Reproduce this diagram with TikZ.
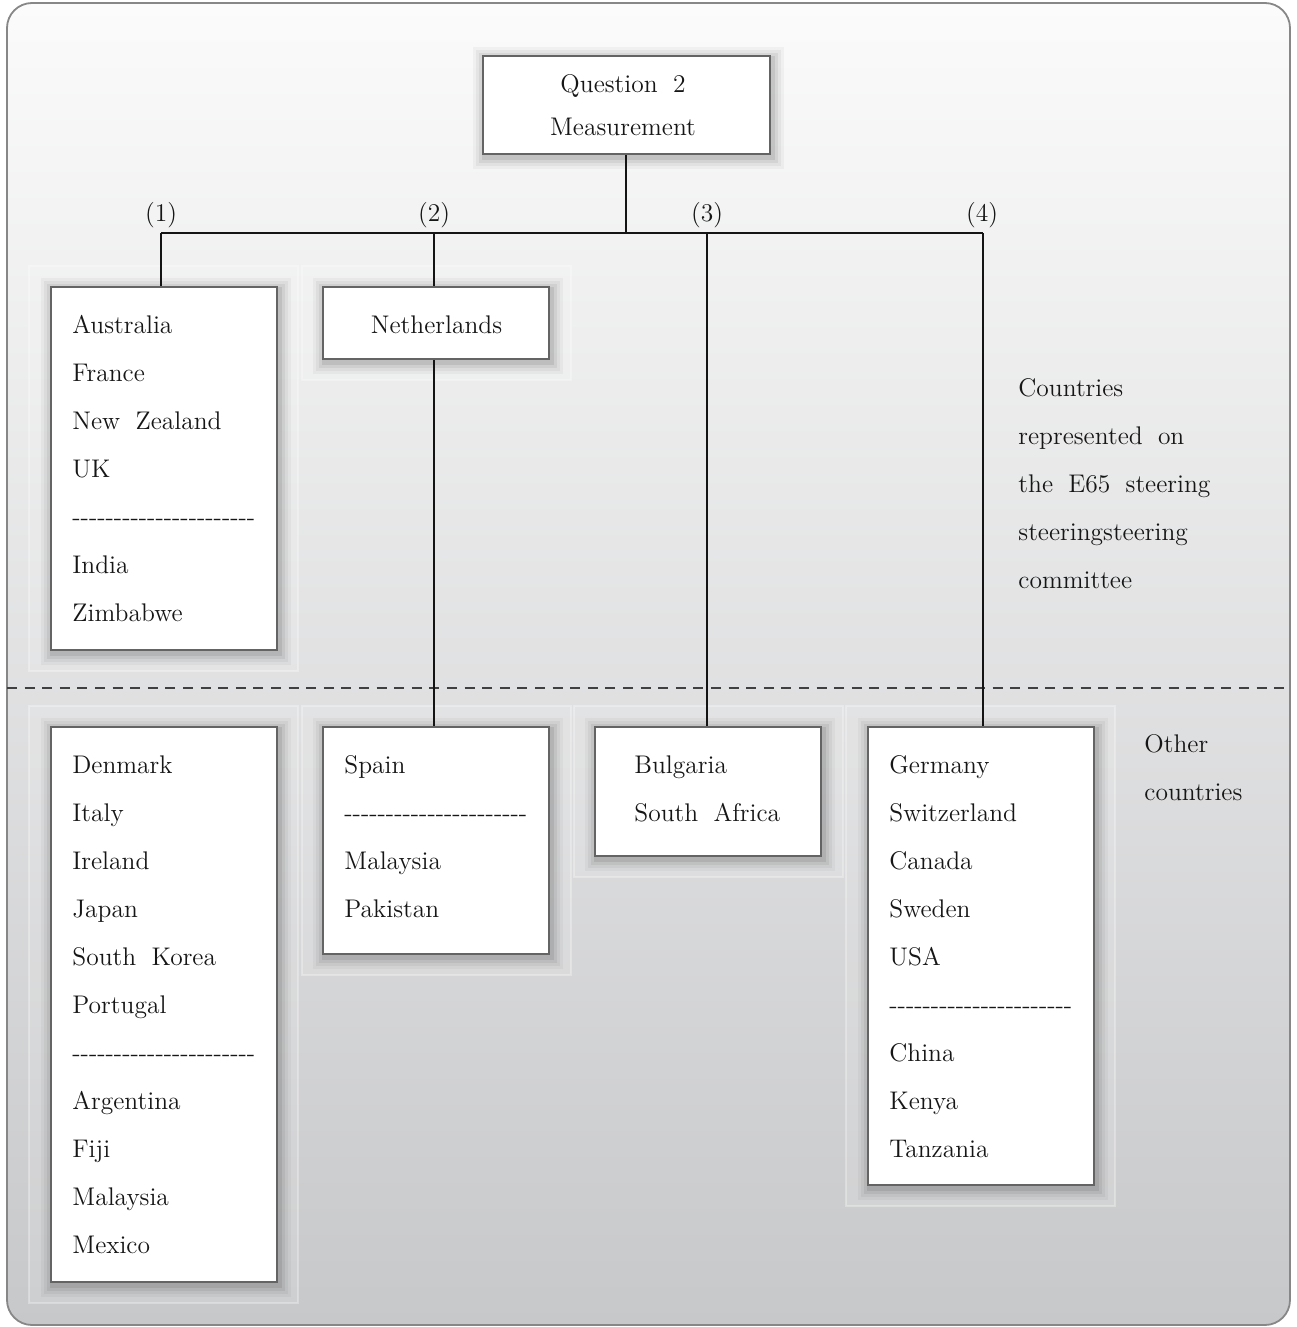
\documentclass[tikz,border=0pt]{standalone}
\usetikzlibrary{shadows}
\definecolor{bgtop}{RGB}{251,251,251}
\definecolor{bgmid}{RGB}{227,228,229}
\definecolor{bgbot}{RGB}{199,200,202}
\definecolor{framecol}{RGB}{135,135,135}
\definecolor{boxline}{RGB}{100,100,100}
\definecolor{ink}{RGB}{22,22,22}
\definecolor{linecol}{RGB}{20,20,20}
\newcommand\gap{\hspace{0.6em}}
\newcommand\dashrow{-{}-{}-{}-{}-{}-{}-{}-{}-{}-{}-{}-{}-{}-{}-{}-{}-{}-{}-{}-{}-{}-}
\tikzset{
  boxshadow/.style={
    general shadow={draw=black,line width=12pt,opacity=0.035,shadow xshift=0.8pt,shadow yshift=-1.6pt},
    general shadow={draw=black,line width=9pt,opacity=0.045,shadow xshift=0.8pt,shadow yshift=-1.6pt},
    general shadow={draw=black,line width=6pt,opacity=0.06,shadow xshift=0.8pt,shadow yshift=-1.6pt},
    general shadow={draw=black,line width=3pt,opacity=0.08,shadow xshift=0.8pt,shadow yshift=-1.6pt}},
  cbox/.style={rectangle, draw=boxline, line width=1pt, fill=white, inner sep=0pt, boxshadow},
  txt/.style={anchor=base west, inner sep=0pt, text=ink, font=\fontsize{12.75}{15}\selectfont},
  ctxt/.style={txt, anchor=base},
  conn/.style={draw=linecol, line width=1pt},
  panel/.style={fill=white, fill opacity=0.12, draw=white, draw opacity=0.3, line width=0.6pt}
}
\begin{document}
\begin{tikzpicture}[x=0.5pt,y=-0.5pt]
\useasboundingbox (0,0) rectangle (1296,1327);
% frame with gradient
\shade[top color=bgtop, middle color=bgmid, bottom color=bgbot, rounded corners=12.5pt]
  (7,3) rectangle (1290,1325);
\draw[draw=framecol, line width=0.9pt, rounded corners=12.5pt] (7,3) rectangle (1290,1325);
% faint panels
\path[panel] (29,266) rectangle (298,671);
\path[panel] (302,266) rectangle (571,380);
\path[panel] (29,706) rectangle (298,1303);
\path[panel] (302,706) rectangle (571,975);
\path[panel] (574,706) rectangle (843,877);
\path[panel] (846,706) rectangle (1115,1206);
% dashed separator
\coordinate (dl) at (7,688);
\coordinate (dr) at (1290,688);
\draw[draw=black!75, line width=0.75pt, dash pattern=on 5pt off 3.8pt] (dl) -- (dr);
% boxes
\node[cbox, minimum width=143.5pt, minimum height=49pt] (q) at (626.5,105) {};
\node[cbox, minimum width=113pt, minimum height=181.5pt] (b1) at (164,468.5) {};
\node[cbox, minimum width=113pt, minimum height=36pt] (nl) at (436,323) {};
\node[cbox, minimum width=113pt, minimum height=277.5pt] (dk) at (164,1004.5) {};
\node[cbox, minimum width=113pt, minimum height=113.5pt] (sp) at (436,840.5) {};
\node[cbox, minimum width=113pt, minimum height=64.5pt] (bg) at (708,791.5) {};
\node[cbox, minimum width=113pt, minimum height=229pt] (de) at (981,956) {};
% connectors
\coordinate (j) at (626,233);
\coordinate (h1) at (161,233);
\coordinate (h2) at (434,233);
\coordinate (h3) at (707,233);
\coordinate (h4) at (983,233);
\draw[conn] (q.south -| j) -- (j);
\draw[conn] (h1) -- (h4);
\draw[conn] (h1) -- (h1 |- b1.north);
\draw[conn] (h2) -- (h2 |- nl.north);
\draw[conn] (h3) -- (h3 |- bg.north);
\draw[conn] (h4) -- (h4 |- de.north);
\draw[conn] (h2 |- nl.south) -- (h2 |- sp.north);
% branch labels
\node[ctxt] (l1) at (161,221) {(1)};
\node[ctxt] (l2) at (434,221) {(2)};
\node[ctxt] (l3) at (707,221) {(3)};
\node[ctxt] (l4) at (982,221) {(4)};
% texts
\node[ctxt] (qa) at (623,92.5) {Question\gap 2};
\node[ctxt] (qb) at (623,135) {Measurement};
\node[ctxt] (nlt) at (436.5,333) {Netherlands};
\foreach \t [count=\i] in {Australia,France,New\gap Zealand,UK,\dashrow,India,Zimbabwe}
  \node[txt] (ta\i) at (72,{333+48*(\i-1)}) {\t};
\foreach \t [count=\i] in {Denmark,Italy,Ireland,Japan,South\gap Korea,Portugal,\dashrow,Argentina,Fiji,Malaysia,Mexico}
  \node[txt] (td\i) at (72,{773+48*(\i-1)}) {\t};
\foreach \t [count=\i] in {Spain,\dashrow,Malaysia,Pakistan}
  \node[txt] (ts\i) at (344,{773+48*(\i-1)}) {\t};
\foreach \t [count=\i] in {Bulgaria,South\gap Africa}
  \node[txt] (tb\i) at (634,{773+48*(\i-1)}) {\t};
\foreach \t [count=\i] in {Germany,Switzerland,Canada,Sweden,USA,\dashrow,China,Kenya,Tanzania}
  \node[txt] (tg\i) at (889,{773+48*(\i-1)}) {\t};
\foreach \t [count=\i] in {Countries,represented\gap on,the\gap E65\gap steering,steeringsteering,committee}
  \node[txt] (tr\i) at (1018,{396+48*(\i-1)}) {\t};
\node[txt] (to1) at (1144,752) {Other};
\node[txt] (to2) at (1144,800) {countries};
\end{tikzpicture}
\end{document}
